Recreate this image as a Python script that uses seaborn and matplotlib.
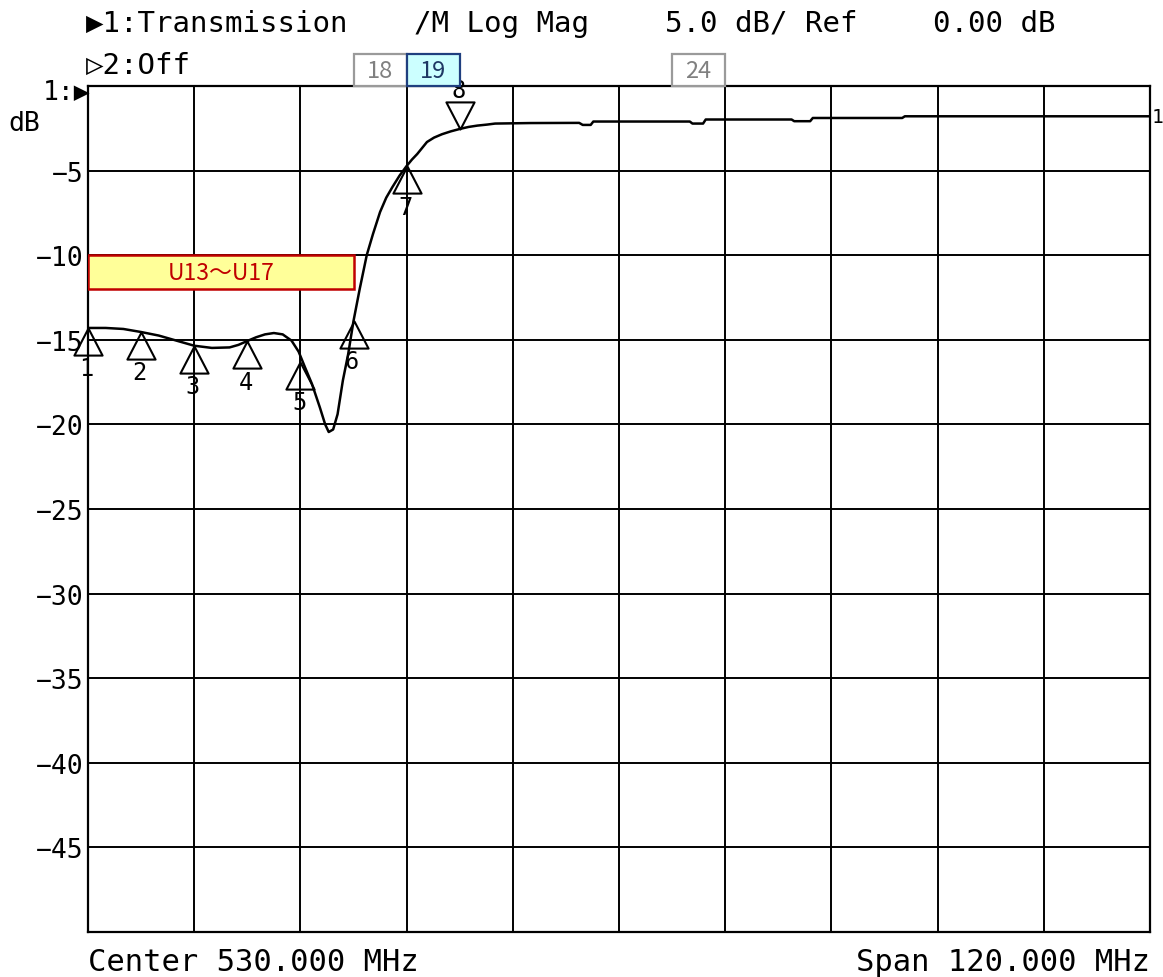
import matplotlib
matplotlib.use("Agg")
import matplotlib.pyplot as plt
import matplotlib.transforms as mtransforms
from matplotlib.path import Path
from matplotlib.patches import Rectangle
import seaborn as sns

# sweep settings
center_mhz = 530.0
span_mhz = 120.0
scale_db = 5.0
ref_db = 0.0

# trace 1 (transmission)
freq_mhz = [470.0, 472.0, 474.0, 476.0, 478.0, 480.0, 482.0, 484.0, 486.0, 487.0,
            488.0, 489.0, 490.0, 491.0, 492.0, 493.0, 493.8, 494.5, 495.3, 496.2,
            496.8, 497.2, 497.7, 498.2, 498.8, 499.4, 500.0, 500.7, 501.5, 502.2,
            503.0, 503.7, 504.4, 505.2, 506.0, 506.6, 507.2, 508.3, 509.1, 510.0,
            511.0, 512.0, 513.0, 514.0, 515.1, 516.0, 520.0, 525.5, 525.9, 526.8,
            527.1, 538.0, 538.3, 539.5, 539.8, 549.5, 549.8, 551.6, 551.9, 562.0,
            562.3, 590.0]
trace_db = [-14.30, -14.30, -14.36, -14.54, -14.75, -15.05, -15.35, -15.48, -15.45, -15.30,
            -15.07, -14.85, -14.68, -14.60, -14.68, -15.05, -15.70, -16.60, -17.60, -19.00,
            -20.00, -20.45, -20.30, -19.40, -17.40, -15.84, -13.89, -12.00, -9.99, -8.75,
            -7.45, -6.60, -5.97, -5.30, -4.73, -4.35, -4.02, -3.31, -3.05, -2.85,
            -2.68, -2.54, -2.42, -2.34, -2.28, -2.22, -2.19, -2.18, -2.30, -2.30,
            -2.10, -2.10, -2.22, -2.22, -1.98, -1.98, -2.08, -2.08, -1.89, -1.89,
            -1.79, -1.79]

# markers
marker_names = ["1", "2", "3", "4", "5", "6", "7", "8"]
marker_freq = [470, 476, 482, 488, 494, 500, 506, 512]
marker_db = [-14.3, -14.55, -15.35, -15.1, -16.3, -13.9, -4.75, -2.55]

# channel tags above the grid
chan_names = ["18", "19", "24"]
chan_start = [500, 506, 536]
chan_width = 6
chan_active = "19"

# band label inside the grid
band_label = "U13～U17"
band_lo, band_hi = 470, 500
band_top, band_bottom = -10, -12

W, H = 1163, 978
mono = ["DejaVu Sans Mono", "DejaVu Sans"]
jp = ["Noto Sans CJK JP", "DejaVu Sans"]

sns.set_style("white")
plt.rcParams["font.family"] = mono
plt.rcParams["text.color"] = "black"
plt.rcParams["ytick.color"] = "black"


def fpx(x, y):
    return x / W, 1 - y / H


fig = plt.figure(figsize=(W / 100, H / 100), dpi=100)
x0, x1, y0, y1 = 88, 1150, 87, 933
ax = fig.add_axes([x0 / W, 1 - y1 / H, (x1 - x0) / W, (y1 - y0) / H])

lo = center_mhz - span_mhz / 2
hi = center_mhz + span_mhz / 2
ax.set_xlim(lo, hi)
ax.set_ylim(ref_db - 10 * scale_db, ref_db)
ax.set_xticks([lo + i * span_mhz / 10 for i in range(11)])
ax.set_yticks([ref_db - i * scale_db for i in range(11)])
ax.set_xticklabels([])
ax.set_yticklabels(["" if i in (0, 10) else "\u2212%d" % (i * scale_db) for i in range(11)])
ax.tick_params(length=0, pad=3, labelsize=19, labelcolor="black")
ax.grid(True, color="black", lw=1.4)
for s in ax.spines.values():
    s.set_color("black")
    s.set_linewidth(1.6)

sns.lineplot(x=freq_mhz, y=trace_db, ax=ax, color="black", lw=1.8, zorder=6)

# marker triangles, tip on the trace
up = Path([(0, 0), (-0.52, -1), (0.52, -1), (0, 0)], [1, 2, 2, 79])
down = Path([(0, 0), (-0.52, 1), (0.52, 1), (0, 0)], [1, 2, 2, 79])
ax.plot(marker_freq[:-1], marker_db[:-1], ls="none", marker=up, ms=39,
        mfc="none", mec="black", mew=1.5, clip_on=False, zorder=7)
ax.plot(marker_freq[-1:], marker_db[-1:], ls="none", marker=down, ms=39,
        mfc="none", mec="black", mew=1.5, clip_on=False, zorder=7)
for name, f, d in zip(marker_names, marker_freq, marker_db):
    dy = 28 if name == marker_names[-1] else -29
    ax.annotate(name, (f, d), xytext=(-1, dy), textcoords="offset points",
                ha="center", va="center", fontsize=17, annotation_clip=False, zorder=3)

ax.annotate("1", (hi, trace_db[-1]), xytext=(1, 0), textcoords="offset points",
            ha="left", va="center", fontsize=14, annotation_clip=False)

# band box
ax.add_patch(Rectangle((band_lo, band_bottom), band_hi - band_lo, band_top - band_bottom,
                       fc="#ffff99", ec="#c00000", lw=1.8, zorder=8))
ax.text((band_lo + band_hi) / 2, (band_top + band_bottom) / 2, band_label,
        ha="center", va="center", fontsize=16.5, color="#c00000", family=jp, zorder=9)

# channel tags
trans = mtransforms.blended_transform_factory(ax.transData, ax.transAxes)
tag_h = 32 / (y1 - y0)
for name, start in zip(chan_names, chan_start):
    if name == chan_active:
        fc, ec, tc = "#ccffff", "#1f3f7f", "#1f3864"
    else:
        fc, ec, tc = "white", "#9a9a9a", "#808080"
    ax.add_patch(Rectangle((start, 1.0), chan_width, tag_h, transform=trans,
                           fc=fc, ec=ec, lw=1.6, clip_on=False, zorder=10))
    ax.text(start + chan_width / 2, 1.0 + tag_h / 2, name, transform=trans,
            ha="center", va="center", fontsize=17, color=tc, family=jp, zorder=11)

# header and footer
fig.text(*fpx(86, 24), "▶1:Transmission", ha="left", va="center", fontsize=21)
fig.text(*fpx(501, 24), "/M Log Mag", ha="center", va="center", fontsize=21)
fig.text(*fpx(761, 24), "%.1f dB/ Ref" % scale_db, ha="center", va="center", fontsize=21)
fig.text(*fpx(994, 24), "%.2f dB" % ref_db, ha="center", va="center", fontsize=21)
fig.text(*fpx(86, 66), "▷2:Off", ha="left", va="center", fontsize=21)
fig.text(*fpx(90, 92), "1:▶", ha="right", va="center", fontsize=19)
fig.text(*fpx(8, 124), "dB", ha="left", va="center", fontsize=19)
fig.text(*fpx(88, 963), "Center %.3f MHz" % center_mhz, ha="left", va="center", fontsize=22)
fig.text(*fpx(1150, 963), "Span %.3f MHz" % span_mhz, ha="right", va="center", fontsize=22)

fig.savefig("out.png", dpi=100, facecolor="white")
